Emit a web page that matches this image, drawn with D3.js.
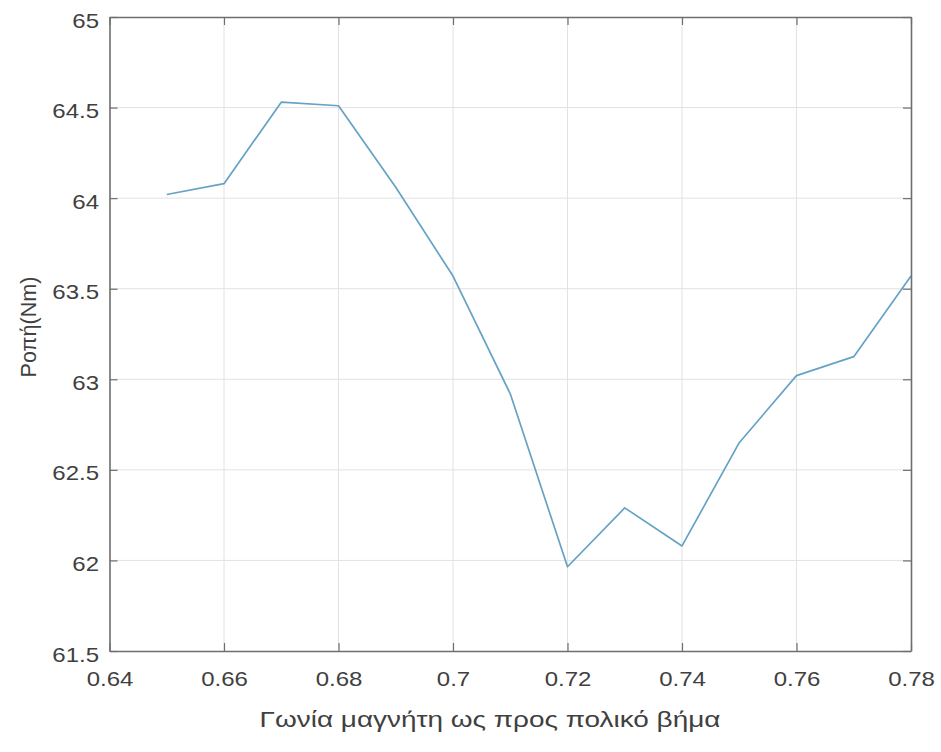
<!DOCTYPE html>
<html>
<head>
<meta charset="utf-8">
<script src="https://cdn.jsdelivr.net/npm/d3@7"></script>
<style>
  html, body { margin: 0; padding: 0; background: #fff; }
  svg { display: block; }
  text { font-family: "Liberation Sans", Arial, sans-serif; fill: #404040; }
</style>
</head>
<body>
<svg id="chart" width="941" height="752"></svg>
<script>
// Torque vs magnet angle / pole pitch
const angles = [0.65, 0.66, 0.67, 0.68, 0.69, 0.70, 0.71, 0.72, 0.73, 0.74, 0.75, 0.76, 0.77, 0.78];
const torque = [64.02, 64.08, 64.53, 64.51, 64.06, 63.57, 62.92, 61.965, 62.29, 62.08, 62.65, 63.02, 63.125, 63.57];
const xTicks = [0.64, 0.66, 0.68, 0.70, 0.72, 0.74, 0.76, 0.78];
const yTicks = [61.5, 62, 62.5, 63, 63.5, 64, 64.5, 65];
const xLabel = "Γωνία μαγνήτη ως προς πολικό βήμα";
const yLabel = "Ροπή(Nm)";

const svg = d3.select("#chart");
const plotLeft = 109.5, plotRight = 911, plotTop = 17, plotBottom = 651;

const x = d3.scaleLinear().domain([0.64, 0.78]).range([plotLeft, plotRight]);
const y = d3.scaleLinear().domain([61.5, 65]).range([plotBottom, plotTop]);

const axisColor = "#6e6e6e";
const gridColor = "#e2e2e2";
const tickLen = 8;

// grid
const grid = svg.append("g");
grid.selectAll("line.gx").data(xTicks.slice(1, -1)).join("line")
  .attr("class", "gx")
  .attr("x1", d => x(d)).attr("x2", d => x(d))
  .attr("y1", plotTop).attr("y2", plotBottom)
  .attr("stroke", gridColor).attr("stroke-width", 1);
grid.selectAll("line.gy").data(yTicks.slice(1, -1)).join("line")
  .attr("class", "gy")
  .attr("x1", plotLeft).attr("x2", plotRight)
  .attr("y1", d => y(d)).attr("y2", d => y(d))
  .attr("stroke", gridColor).attr("stroke-width", 1);

// data line
const line = d3.line().x((d, i) => x(angles[i])).y(d => y(d));
svg.append("path")
  .datum(torque)
  .attr("d", line)
  .attr("fill", "none")
  .attr("stroke", "#66a2c4")
  .attr("stroke-width", 1.7)
  .attr("stroke-linejoin", "round");

// axes (ticks pointing inward, box on)
const fmt = d => String(+d.toFixed(2));
const xAxisB = d3.axisBottom(x).tickValues(xTicks).tickSize(-tickLen).tickSizeOuter(0).tickFormat(fmt);
const xAxisT = d3.axisTop(x).tickValues(xTicks).tickSize(-tickLen).tickSizeOuter(0).tickFormat("");
const yAxisL = d3.axisLeft(y).tickValues(yTicks).tickSize(-tickLen).tickSizeOuter(0).tickFormat(fmt);
const yAxisR = d3.axisRight(y).tickValues(yTicks).tickSize(-tickLen).tickSizeOuter(0).tickFormat("");

function styleAxis(g) {
  g.select(".domain").attr("stroke", axisColor).attr("stroke-width", 1.6);
  g.selectAll(".tick line").attr("stroke", axisColor).attr("stroke-width", 1.2);
  g.selectAll(".tick text")
    .attr("fill", "#404040")
    .style("font-family", "'Liberation Sans', Arial, sans-serif")
    .style("font-size", "20px");
}

const gxB = svg.append("g").attr("transform", `translate(0,${plotBottom})`).call(xAxisB).call(styleAxis);
gxB.selectAll(".tick text").attr("x", 0).attr("y", 0).attr("dy", "1.75em")
  .attr("transform", "scale(1.2,1)");
svg.append("g").attr("transform", `translate(0,${plotTop})`).call(xAxisT).call(styleAxis);

const gyL = svg.append("g").attr("transform", `translate(${plotLeft},0)`).call(yAxisL).call(styleAxis);
gyL.selectAll(".tick text").attr("x", -10.5 / 1.2).attr("dy", "0.5em")
  .attr("transform", "scale(1.2,1)");
svg.append("g").attr("transform", `translate(${plotRight},0)`).call(yAxisR).call(styleAxis);

// axis titles
svg.append("text")
  .attr("transform", "translate(490,727) scale(1.27,1)")
  .attr("text-anchor", "middle")
  .style("font-size", "22px")
  .text(xLabel);

svg.append("text")
  .attr("transform", "translate(36,327) rotate(-90) scale(1.08,1.12)")
  .attr("text-anchor", "middle")
  .style("font-size", "20px")
  .text(yLabel);
</script>
</body>
</html>
